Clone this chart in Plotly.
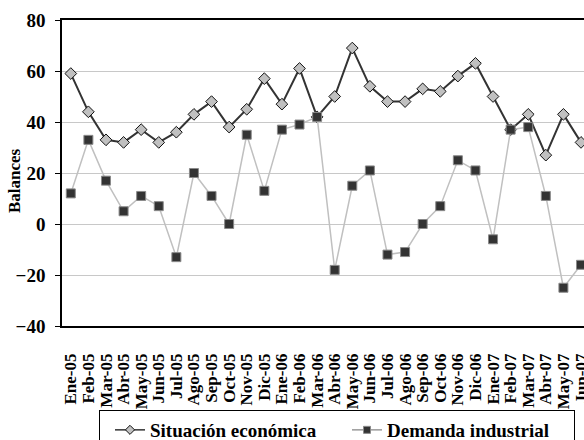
import plotly.graph_objects as go

months = ["Ene-05", "Feb-05", "Mar-05", "Abr-05", "May-05", "Jun-05", "Jul-05", "Ago-05",
          "Sep-05", "Oct-05", "Nov-05", "Dic-05", "Ene-06", "Feb-06", "Mar-06", "Abr-06",
          "May-06", "Jun-06", "Jul-06", "Ago-06", "Sep-06", "Oct-06", "Nov-06", "Dic-06",
          "Ene-07", "Feb-07", "Mar-07", "Abr-07", "May-07", "Jun-07"]

situacion = [59, 44, 33, 32, 37, 32, 36, 43, 48, 38, 45, 57, 47, 61, 42, 50,
             69, 54, 48, 48, 53, 52, 58, 63, 50, 37, 43, 27, 43, 32]

demanda = [12, 33, 17, 5, 11, 7, -13, 20, 11, 0, 35, 13, 37, 39, 42, -18,
           15, 21, -12, -11, 0, 7, 25, 21, -6, 37, 38, 11, -25, -16]

y_ticks = [-40, -20, 0, 20, 40, 60, 80]

FONT = "Liberation Serif"
xr = [-0.5, 29.17]

def bfont(size):
    return dict(family=FONT, size=size, color="black", weight="bold")

sit_line = dict(color="#333333", width=2)
sit_marker = dict(symbol="diamond", color="#c0c0c0", line=dict(color="#111111", width=1))
dem_line = dict(color="#c0c0c0", width=1.5)
dem_marker = dict(symbol="square", color="#333333", line=dict(color="#8a8a8a", width=1))

fig = go.Figure()
fig.add_trace(go.Scatter(
    x=months, y=situacion, name="Situación económica", mode="lines+markers",
    line=sit_line, marker=dict(size=9, **sit_marker), showlegend=False,
))
fig.add_trace(go.Scatter(
    x=months, y=demanda, name="Demanda industrial", mode="lines+markers",
    line=dem_line, marker=dict(size=9, **dem_marker), showlegend=False,
))
# legend-only entries with smaller symbols
fig.add_trace(go.Scatter(
    x=[None], y=[None], name="Situación económica", mode="lines+markers",
    line=dict(color="#333333", width=1.5), marker=dict(size=7, **sit_marker),
))
fig.add_trace(go.Scatter(
    x=[None], y=[None], name="Demanda industrial", mode="lines+markers",
    line=dict(color="#999999", width=1.5), marker=dict(size=7, **dem_marker),
))

fig.update_layout(
    width=584, height=440,
    margin=dict(l=62, r=0, t=20, b=114),
    paper_bgcolor="white", plot_bgcolor="white",
    font=bfont(19),
    showlegend=True,
    legend=dict(
        orientation="h", xref="container", yref="container",
        x=99 / 584, y=1 - 410 / 440, xanchor="left", yanchor="top",
        bordercolor="black", borderwidth=1, bgcolor="white",
        font=bfont(19), indentation=10,
        entrywidth=182, tracegroupgap=0,
    ),
    xaxis=dict(
        type="category", categoryarray=months, range=xr,
        tickmode="array", tickvals=months, ticktext=months,
        tickangle=-90, tickfont=bfont(17),
        showgrid=False, zeroline=False, showline=True, linecolor="black", linewidth=1.5,
        mirror=True, ticks="", ticklabelstandoff=19, automargin=False,
    ),
    xaxis2=dict(
        overlaying="x", anchor="free", position=1/3, range=xr, type="linear",
        tick0=-0.5, dtick=1, ticks="outside", ticklen=5, tickcolor="black",
        showticklabels=False, showgrid=False, zeroline=False,
        showline=True, linecolor="black", linewidth=1.5,
    ),
    yaxis=dict(
        range=[-40, 80], tickvals=y_ticks,
        tickfont=bfont(19),
        showgrid=True, gridcolor="#c8c8c8", gridwidth=1,
        zeroline=False, showline=True, linecolor="black", linewidth=1.5,
        ticks="outside", ticklen=5, tickcolor="black", ticklabelstandoff=6,
        automargin=False,
    ),
    annotations=[dict(
        text="Balances", textangle=-90, font=bfont(17), showarrow=False,
        xref="paper", yref="paper", x=(14 - 62) / 522, y=(326 - 181) / 306,
        xanchor="center", yanchor="middle",
    )],
)

fig.write_html("out.html", config={"displayModeBar": False},
               post_script="document.body.style.margin='0';")
